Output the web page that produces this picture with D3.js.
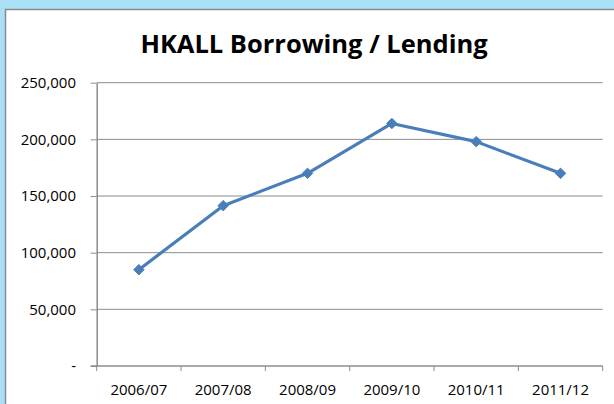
<!DOCTYPE html>
<html>
<head>
<meta charset="utf-8">
<script src="https://cdn.jsdelivr.net/npm/d3@7"></script>
<style>
  body { margin: 0; background: #a9e0f8; }
  svg { display: block; }
</style>
</head>
<body>
<div id="chart"></div>
<script>
// datos
const years = ["2006/07", "2007/08", "2008/09", "2009/10", "2010/11", "2011/12"];
const amounts = [85000, 141500, 170000, 214000, 198000, 170000];
const yTicks = [0, 50000, 100000, 150000, 200000, 250000];
const title = "HKALL Borrowing / Lending";

const width = 614;
const height = 404;
const font = "'Open Sans', sans-serif";

const svg = d3.select("#chart")
    .append("svg")
    .attr("width", width)
    .attr("height", height);

// fondo azul y recuadro blanco del grafico
svg.append("rect")
    .attr("width", width)
    .attr("height", height)
    .attr("fill", "#a9e0f8");

svg.append("rect")
    .attr("x", 5.5)
    .attr("y", 9.5)
    .attr("width", 640)
    .attr("height", 420)
    .attr("fill", "#fff")
    .attr("stroke", "#8a8a8a")
    .attr("stroke-width", 1.5);

// area del grafico
const plot = { left: 96.7, right: 602.7, top: 82.7, bottom: 366 };

const xScale = d3.scaleBand()
    .domain(years)
    .range([plot.left, plot.right]);

const yScale = d3.scaleLinear()
    .domain([0, 250000])
    .range([plot.bottom, plot.top]);

// lineas de cuadricula
svg.append("g")
    .selectAll("line")
    .data(yTicks.filter(d => d > 0))
    .enter()
    .append("line")
    .attr("x1", plot.left)
    .attr("x2", plot.right)
    .attr("y1", d => yScale(d))
    .attr("y2", d => yScale(d))
    .attr("stroke", "#8c8c8c")
    .attr("stroke-width", 1);

// eje Y
const yAxis = d3.axisLeft(yScale)
    .tickValues(yTicks)
    .tickSizeInner(6)
    .tickSizeOuter(0)
    .tickPadding(14.7)
    .tickFormat(d => d === 0 ? "-" : d3.format(",")(d));

const yG = svg.append("g")
    .attr("transform", `translate(${plot.left},0)`)
    .call(yAxis);

yG.select(".domain").attr("stroke", "#8c8c8c").attr("stroke-width", 1.5);
yG.selectAll(".tick line").attr("stroke", "#8c8c8c");
yG.selectAll("text")
    .attr("fill", "#000")
    .style("font-family", font)
    .style("font-size", "15px");

// eje X: etiquetas centradas, marcas en los limites de cada categoria
const xAxis = d3.axisBottom(xScale)
    .tickSize(0)
    .tickPadding(18.3);

const xG = svg.append("g")
    .attr("transform", `translate(0,${plot.bottom})`)
    .call(xAxis);

xG.select(".domain").remove();
xG.selectAll("text")
    .attr("fill", "#000")
    .style("font-family", font)
    .style("font-size", "15px");

const bounds = years.map(d => xScale(d)).concat([xScale.range()[1]]);

svg.append("line")
    .attr("x1", plot.left - 6)
    .attr("x2", plot.right)
    .attr("y1", plot.bottom)
    .attr("y2", plot.bottom)
    .attr("stroke", "#8c8c8c")
    .attr("stroke-width", 1.5);

svg.append("g")
    .selectAll("line")
    .data(bounds)
    .enter()
    .append("line")
    .attr("x1", d => d)
    .attr("x2", d => d)
    .attr("y1", plot.bottom)
    .attr("y2", plot.bottom + 5)
    .attr("stroke", "#8c8c8c")
    .attr("stroke-width", 1);

// linea de la serie
const line = d3.line()
    .x((d, i) => xScale(years[i]) + xScale.bandwidth() / 2)
    .y(d => yScale(d));

svg.append("path")
    .datum(amounts)
    .attr("d", line)
    .attr("fill", "none")
    .attr("stroke", "#4a7ebb")
    .attr("stroke-width", 3.2)
    .attr("stroke-linejoin", "round");

// marcadores en forma de rombo
svg.append("g")
    .selectAll("path")
    .data(amounts)
    .enter()
    .append("path")
    .attr("d", d3.symbol().type(d3.symbolDiamond2).size(70))
    .attr("transform", (d, i) => `translate(${xScale(years[i]) + xScale.bandwidth() / 2},${yScale(d)})`)
    .attr("fill", "#4a7ebb")
    .attr("stroke", "#4a7ebb")
    .attr("stroke-width", 1);

// titulo, ajustado al ancho del original
const titleText = svg.append("text")
    .attr("x", 314)
    .attr("y", 53.3)
    .attr("text-anchor", "middle")
    .style("font-family", font)
    .style("font-weight", "bold")
    .style("font-size", "26px")
    .text(title);

const w = titleText.node().getComputedTextLength();
titleText.style("font-size", (26 * 347 / w).toFixed(1) + "px");
</script>
</body>
</html>
